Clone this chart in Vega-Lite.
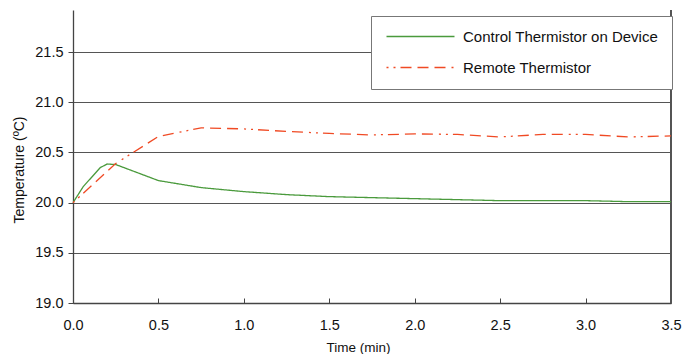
{
  "$schema": "https://vega.github.io/schema/vega-lite/v6.json",
  "width": 598,
  "height": 293,
  "autosize": {"type": "none"},
  "padding": {"left": 73, "top": 10, "right": 12, "bottom": 51},
  "background": "white",
  "config": {
    "view": {"stroke": null},
    "font": "Liberation Sans",
    "axis": {"labelFont": "Liberation Sans", "titleFont": "Liberation Sans", "labelColor": "#111", "titleColor": "#111", "titleFontWeight": "normal"},
    "legend": {"labelFont": "Liberation Sans"}
  },
  "data": {
    "values": [
      {"t": 0.0, "temp": 20.0, "series": "Control Thermistor on Device"},
      {"t": 0.06, "temp": 20.16, "series": "Control Thermistor on Device"},
      {"t": 0.16, "temp": 20.35, "series": "Control Thermistor on Device"},
      {"t": 0.2, "temp": 20.385, "series": "Control Thermistor on Device"},
      {"t": 0.25, "temp": 20.38, "series": "Control Thermistor on Device"},
      {"t": 0.5, "temp": 20.22, "series": "Control Thermistor on Device"},
      {"t": 0.75, "temp": 20.15, "series": "Control Thermistor on Device"},
      {"t": 1.0, "temp": 20.11, "series": "Control Thermistor on Device"},
      {"t": 1.25, "temp": 20.08, "series": "Control Thermistor on Device"},
      {"t": 1.5, "temp": 20.06, "series": "Control Thermistor on Device"},
      {"t": 1.75, "temp": 20.05, "series": "Control Thermistor on Device"},
      {"t": 2.0, "temp": 20.04, "series": "Control Thermistor on Device"},
      {"t": 2.25, "temp": 20.03, "series": "Control Thermistor on Device"},
      {"t": 2.5, "temp": 20.02, "series": "Control Thermistor on Device"},
      {"t": 2.75, "temp": 20.02, "series": "Control Thermistor on Device"},
      {"t": 3.0, "temp": 20.02, "series": "Control Thermistor on Device"},
      {"t": 3.25, "temp": 20.01, "series": "Control Thermistor on Device"},
      {"t": 3.5, "temp": 20.01, "series": "Control Thermistor on Device"},
      {"t": 0.0, "temp": 20.0, "series": "Remote Thermistor"},
      {"t": 0.25, "temp": 20.39, "series": "Remote Thermistor"},
      {"t": 0.5, "temp": 20.66, "series": "Remote Thermistor"},
      {"t": 0.75, "temp": 20.745, "series": "Remote Thermistor"},
      {"t": 1.0, "temp": 20.735, "series": "Remote Thermistor"},
      {"t": 1.25, "temp": 20.71, "series": "Remote Thermistor"},
      {"t": 1.5, "temp": 20.69, "series": "Remote Thermistor"},
      {"t": 1.75, "temp": 20.675, "series": "Remote Thermistor"},
      {"t": 2.0, "temp": 20.685, "series": "Remote Thermistor"},
      {"t": 2.25, "temp": 20.68, "series": "Remote Thermistor"},
      {"t": 2.5, "temp": 20.655, "series": "Remote Thermistor"},
      {"t": 2.75, "temp": 20.68, "series": "Remote Thermistor"},
      {"t": 3.0, "temp": 20.68, "series": "Remote Thermistor"},
      {"t": 3.25, "temp": 20.655, "series": "Remote Thermistor"},
      {"t": 3.5, "temp": 20.665, "series": "Remote Thermistor"}
    ]
  },
  "layer": [
    {
      "mark": {"type": "rule", "color": "#555", "strokeWidth": 1.3},
      "encoding": {"x": {"datum": 3.5, "type": "quantitative"}}
    },
    {
      "mark": {"type": "line", "strokeWidth": 1.3},
      "encoding": {
        "x": {
          "field": "t", "type": "quantitative",
          "scale": {"domain": [0, 3.5], "nice": false, "zero": false},
          "axis": {
            "title": "Time (min)", "titleFontSize": 13.5, "titlePadding": 9, "titleX": 285,
            "values": [0, 0.5, 1, 1.5, 2, 2.5, 3, 3.5], "format": ".1f",
            "labelFontSize": 14.5, "labelPadding": 20, "tickSize": -5, "tickColor": "#444",
            "domainColor": "#444", "domainWidth": 1.3, "grid": false, "labelFlush": false
          }
        },
        "y": {
          "field": "temp", "type": "quantitative",
          "scale": {"domain": [19, 21.92], "nice": false, "zero": false},
          "axis": {
            "title": "Temperature (ºC)", "titleFontSize": 14, "titlePadding": 8, "titleY": 159.5,
            "values": [19, 19.5, 20, 20.5, 21, 21.5], "format": ".1f",
            "labelFontSize": 14.5, "labelPadding": 5, "tickSize": 5, "tickColor": "#444",
            "domainColor": "#444", "domainWidth": 1.3,
            "grid": true, "gridColor": "#555", "gridWidth": 1.2
          }
        },
        "color": {
          "field": "series", "type": "nominal",
          "scale": {"domain": ["Control Thermistor on Device", "Remote Thermistor"], "range": ["#4a9a3c", "#f04a24"]},
          "legend": {
            "title": null, "orient": "none", "legendX": 298, "legendY": 6,
            "padding": 13, "strokeColor": "#777", "fillColor": "white",
            "symbolType": "M-1,0H12.6", "symbolSize": 100, "symbolStrokeWidth": 1.3,
            "labelFontSize": 15, "labelColor": "#111", "labelOffset": 64, "labelLimit": 400, "rowPadding": 15
          }
        },
        "strokeDash": {
          "field": "series", "type": "nominal",
          "scale": {"domain": ["Control Thermistor on Device", "Remote Thermistor"], "range": [[1, 0], [2, 5, 2, 5, 11, 6, 11, 6, 11, 6]]},
          "legend": {
            "title": null, "orient": "none", "legendX": 298, "legendY": 6,
            "padding": 13, "strokeColor": "#777", "fillColor": "white",
            "symbolType": "M-1,0H12.6", "symbolSize": 100, "symbolStrokeWidth": 1.3,
            "labelFontSize": 15, "labelColor": "#111", "labelOffset": 64, "labelLimit": 400, "rowPadding": 15
          }
        }
      }
    }
  ]
}
